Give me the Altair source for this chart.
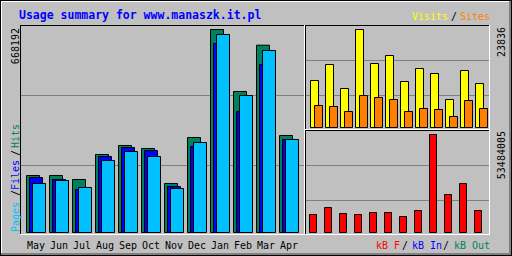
import altair as alt
import pandas as pd

months = ["May", "Jun", "Jul", "Aug", "Sep", "Oct", "Nov", "Dec", "Jan", "Feb", "Mar", "Apr"]
hits = [187621, 187621, 174455, 256745, 286369, 276494, 161288, 312702, 668192, 464116, 616516, 319285]
files = [181038, 174455, 141539, 250162, 279786, 269911, 151414, 283078, 622112, 398284, 552989, 306119]
pages = [161288, 171163, 148122, 236995, 266620, 250162, 144830, 296244, 651734, 450949, 599071, 306119]
visits = [11431, 15322, 9485, 23836, 15566, 17512, 11188, 14350, 13134, 6810, 13863, 10702]
sites = [5351, 5108, 3892, 7783, 7297, 6810, 3892, 4621, 4378, 2675, 6567, 4621]
kbytes = [9823590, 13643875, 10369345, 9823590, 10915100, 10915100, 8732080, 12006610,
          53484005, 20738690, 26741995, 12006610]

title_text = "Usage summary for www.manaszk.it.pl"
left_legend = ["Pages", "/", "Files", "/", "Hits"]
top_legend = ["Visits", "/", "Sites"]
bottom_legend = ["kB F", "/", "kB In", "/", "kB Out"]

C_HITS, C_FILES, C_PAGES = "#00805c", "#0000ff", "#00c0ff"
C_VISITS, C_SITES, C_KB = "#ffff00", "#ff8000", "#ff0000"
BG = "#c0c0c0"
GRID = "#808080"
MONO = "DejaVu Sans Mono"

df = pd.DataFrame({"i": list(range(len(months))), "month": months, "hits": hits, "files": files,
                   "pages": pages, "visits": visits, "sites": sites, "kbytes": kbytes})
one = pd.DataFrame({"a": [0]})

hmax = max(hits)
vmax = max(visits)
kmax = max(kbytes)


def bars(field, color, xr, ymax, yr, w, off):
    return alt.Chart(df).mark_bar(orient="vertical", width=w, xOffset=off, color=color,
                                  stroke="black", strokeWidth=1).encode(
        x=alt.X("i:Q", scale=alt.Scale(domain=[0, 11], range=xr, nice=False, zero=False, padding=0), axis=None),
        y=alt.Y(f"{field}:Q", scale=alt.Scale(domain=[0, ymax], range=yr, nice=False, padding=0), axis=None),
    )


def hline(y, x1, x2, color, w=1):
    return alt.Chart(one).mark_rule(color=color, strokeWidth=w).encode(
        y=alt.value(y), x=alt.value(x1), x2=alt.value(x2))


def vline(x, y1, y2, color, w=1):
    return alt.Chart(one).mark_rule(color=color, strokeWidth=w).encode(
        x=alt.value(x), y=alt.value(y1), y2=alt.value(y2))


def label(text, x, y, color, size=10, align="left", angle=0, weight="normal", baseline="alphabetic"):
    return alt.Chart(one).mark_text(text=text, font=MONO, fontSize=size, color=color, align=align,
                                    angle=angle, fontWeight=weight, baseline=baseline).encode(
        x=alt.value(x), y=alt.value(y))


layers = []
# gridlines
for gy in (95.5, 165.5):
    layers.append(hline(gy, 21, 304, GRID))
for gy in (60.5, 95.5):
    layers.append(hline(gy, 306, 489, GRID))
for gy in (165.5, 200.5):
    layers.append(hline(gy, 306, 489, GRID))

# left panel bars
LX = [33, 286]
LY = [232.5, 29.5]
layers.append(bars("hits", C_HITS, LX, hmax, LY, 13, 0))
layers.append(bars("files", C_FILES, LX, hmax, LY, 13, 3))
layers.append(bars("pages", C_PAGES, LX, hmax, LY, 13, 6))
# top right
TX = [314.5, 479.5]
TY = [127.5, 29.5]
layers.append(bars("visits", C_VISITS, TX, vmax, TY, 8, 0))
layers.append(bars("sites", C_SITES, TX, vmax, TY, 8, 4))
# bottom right
layers.append(bars("kbytes", C_KB, [313, 478], kmax, [232.5, 134.5], 7, 0))

# panel frames
layers += [
    hline(25.5, 20, 305, "black"), vline(20.5, 25, 235, "black"),
    hline(234.5, 20, 305, "white"), vline(304.5, 25, 235, "white"),
    hline(25.5, 305, 490, "black"), vline(305.5, 25, 130, "black"),
    hline(129.5, 305, 490, "white"), vline(489.5, 25, 130, "white"),
    hline(130.5, 305, 490, "black"), vline(305.5, 130, 235, "black"),
    hline(234.5, 305, 490, "white"), vline(489.5, 130, 235, "white"),
]
# outer bevel
layers += [
    hline(1.5, 1, 510, "white"), vline(1.5, 1, 254, "white"),
    hline(254, 1, 511, GRID, 2), vline(510, 1, 255, GRID, 2),
    hline(0.5, 0, 512, "black"), hline(255.5, 0, 512, "black"),
    vline(0.5, 0, 256, "black"), vline(511.5, 0, 256, "black"),
]

# texts
layers.append(label(title_text, 19, 19, "#0000ff", size=11.5, weight="bold"))
layers.append(label(top_legend[0], 448, 20, C_VISITS, align="right"))
layers.append(label(top_legend[1], 454, 20, "black", align="center"))
layers.append(label(top_legend[2], 490, 20, C_SITES, align="right"))

layers.append(label(str(hmax), 19, 28, "black", align="right", angle=270))
layers.append(label(str(vmax), 505, 27, "black", align="right", angle=270))
layers.append(label(str(kmax), 505, 131, "black", align="right", angle=270))

layers.append(label(left_legend[0], 19, 232, C_PAGES, align="left", angle=270))
layers.append(label(left_legend[1], 19, 193, "black", align="center", angle=270))
layers.append(label(left_legend[2], 19, 190, C_FILES, align="left", angle=270))
layers.append(label(left_legend[3], 19, 153, "black", align="center", angle=270))
layers.append(label(left_legend[4], 19, 148, C_HITS, align="left", angle=270))

layers.append(label(bottom_legend[0], 400, 249, C_KB, align="right"))
layers.append(label(bottom_legend[1], 405, 249, "black", align="center"))
layers.append(label(bottom_legend[2], 442, 249, C_FILES, align="right"))
layers.append(label(bottom_legend[3], 446, 249, "black", align="center"))
layers.append(label(bottom_legend[4], 490, 249, C_HITS, align="right"))

month_labels = alt.Chart(df).mark_text(font=MONO, fontSize=10, color="black", baseline="alphabetic").encode(
    x=alt.X("i:Q", scale=alt.Scale(domain=[0, 11], range=[36, 289], nice=False, zero=False, padding=0), axis=None),
    y=alt.value(249),
    text="month:N",
)
layers.append(month_labels)

chart = alt.layer(*layers).resolve_scale(x="independent", y="independent").properties(
    width=512, height=256, padding=0, autosize=alt.AutoSizeParams(type="none"), background=BG,
).configure_view(strokeWidth=0)

chart.save("out.html", embed_options={"renderer": "svg", "actions": False})
